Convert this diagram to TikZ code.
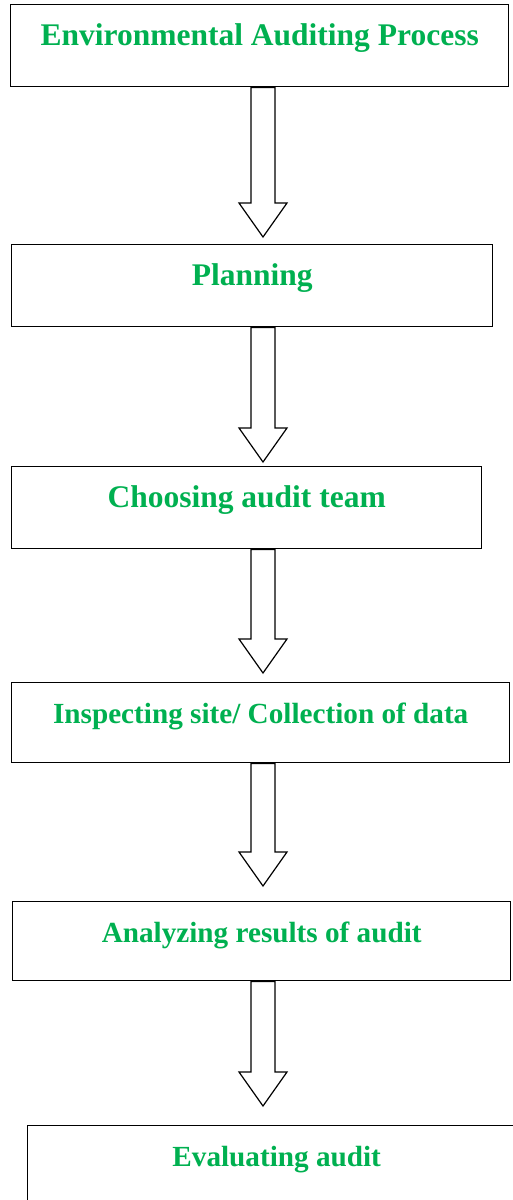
\documentclass[tikz,border=0pt]{standalone}
\usepackage{fontspec}
\setmainfont{Liberation Serif}
\usepackage{xcolor}
\usepackage{tikz}
\usetikzlibrary{calc, positioning}

\definecolor{auditgreen}{HTML}{00B050}

% hollow block arrow: from node, to node, gap above the target
\newcommand{\flowarrow}[3]{%
  \draw[arrowline] ($(#1.south -| axis)+(-12,0)$) -- ($(#2.north -| axis)+(-12,#3+34)$)
    -- ($(#2.north -| axis)+(-24,#3+34)$) -- ($(#2.north -| axis)+(0,#3)$)
    -- ($(#2.north -| axis)+(24,#3+34)$) -- ($(#2.north -| axis)+(12,#3+34)$)
    -- ($(#1.south -| axis)+(12,0)$) -- cycle;}

\begin{document}
\begin{tikzpicture}[
            x=1pt, y=1pt,
            stage/.style={draw, line width=1.4pt, anchor=north west, minimum width=498pt,
                          inner ysep=0pt, text height=41pt, text depth=41pt,
                          text=auditgreen, font=\fontsize{31.5}{36}\selectfont\bfseries},
            smallstage/.style={stage, font=\fontsize{29.2}{34}\selectfont\bfseries},
            arrowline/.style={draw, line width=1.2pt, fill=white, line join=miter}
        ]
        \useasboundingbox (0,0) rectangle (512,-1200);

        % Stages (manual layout to match figure)
        \node[stage] (env) at (10,-4) {Environmental Auditing Process};
        \node[stage, minimum width=481pt] (plan) at (11,-244) {Planning};
        \node[stage, minimum width=470pt] (team) at (11,-466) {Choosing audit team};
        \node[smallstage, text depth=39pt] (site) at (11,-682) {Inspecting site/ Collection of data};
        \node[smallstage, text depth=38pt] (analyze) at (12,-901) {Analyzing results of audit};
        \node[smallstage] (evaluate) at (27,-1125) {Evaluating audit};

        % Arrows
        \coordinate (axis) at (263,0);
        \flowarrow{env}{plan}{7}
        \flowarrow{plan}{team}{4}
        \flowarrow{team}{site}{9}
        \flowarrow{site}{analyze}{15}
        \flowarrow{analyze}{evaluate}{19}

    \end{tikzpicture}
\end{document}
